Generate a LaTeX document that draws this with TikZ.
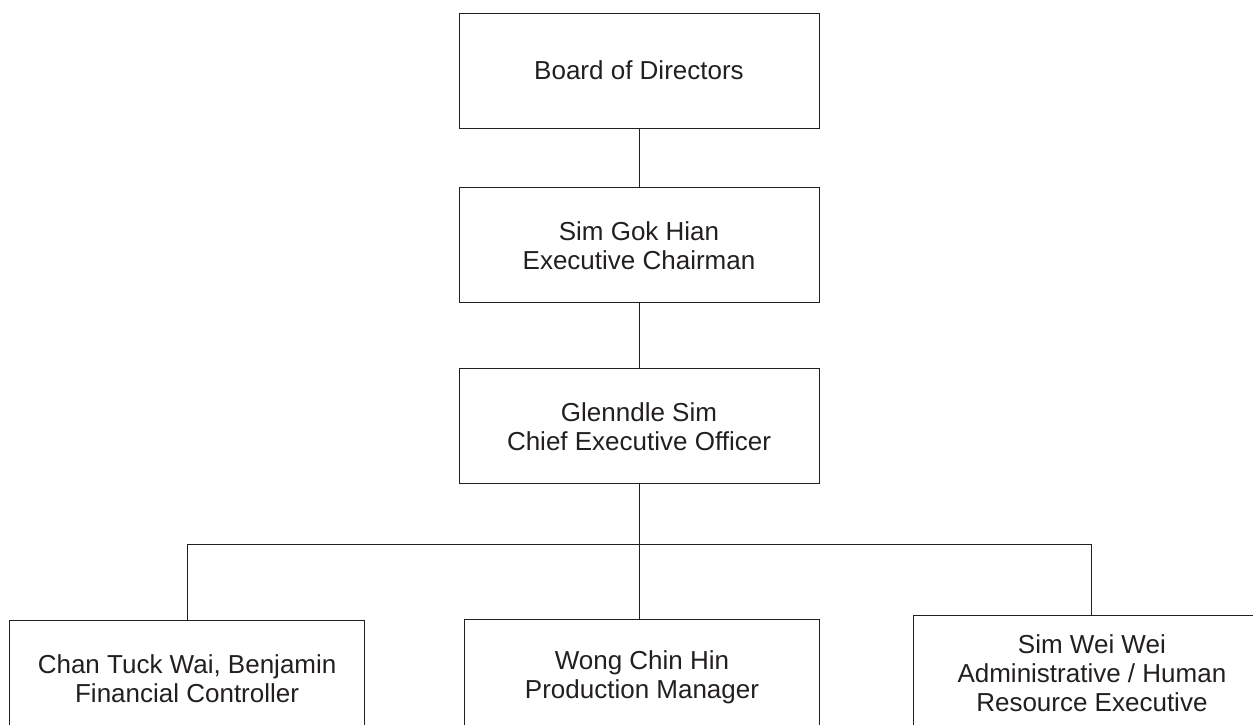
\documentclass[tikz,border=0pt]{standalone}
\usepackage{fontspec}
\setmainfont{Liberation Sans}
\usepackage{tikz}
\usetikzlibrary{positioning}
\definecolor{oInk}{RGB}{35,31,32}
\tikzset{
  post/.style={rectangle, draw=oInk, line width=0.9pt, text=oInk,
               minimum width=360pt, minimum height=115pt, align=center,
               font=\fontsize{26}{29}\selectfont},
  postlow/.style={post, minimum width=355pt},
  link/.style={draw=oInk, line width=0.9pt},
}

\begin{document}
\begin{tikzpicture}[x=1pt, y=1pt, node distance=59pt]
  \useasboundingbox (-639,70.5) rectangle (614,-653.5);
  \clip (-639,70.5) rectangle (614,-653.5);

  \node[post] (board) at (0,0) {Board of Directors};
  \node[post, below=59pt of board] (chair) {Sim Gok Hian\\Executive Chairman};
  \node[post, below=65pt of chair] (ceo) {Glenndle Sim\\Chief Executive Officer};

  % managers, bottom row (cut off by the page edge)
  \node[postlow, below=135pt of ceo, xshift=3pt] (prod) {Wong Chin Hin\\Production Manager};
  \node[postlow, left=99pt of prod, yshift=-1pt] (fin) {Chan Tuck Wai, Benjamin\\Financial Controller};
  \node[postlow, right=93pt of prod, yshift=4pt, minimum width=357pt] (hr)
        {Sim Wei Wei\\Administrative / Human\\Resource Executive};

  \coordinate (bus) at (0,-473.5);

  \draw[link] (board) -- (chair);
  \draw[link] (chair) -- (ceo);
  \draw[link] (ceo.south) -- (bus);
  \draw[link] (bus) -- (bus |- prod.north);
  \draw[link] (fin.north) |- (bus) -| (hr.north);
\end{tikzpicture}
\end{document}
